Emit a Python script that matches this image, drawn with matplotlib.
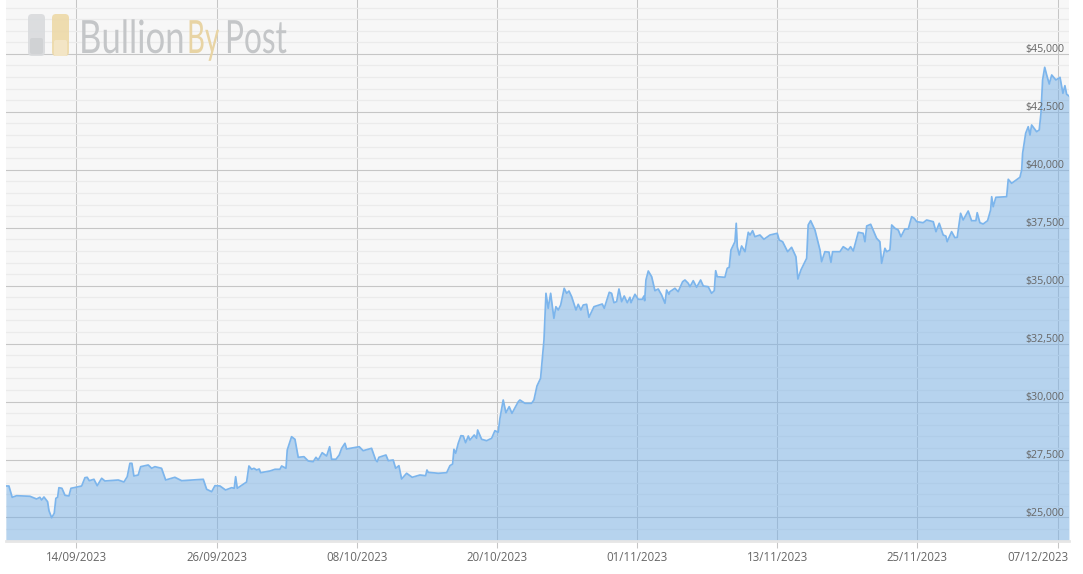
import matplotlib
matplotlib.use("Agg")
import matplotlib.pyplot as plt
from matplotlib.patches import FancyBboxPatch
from matplotlib.patheffects import AbstractPathEffect
from matplotlib.ticker import MultipleLocator
from matplotlib.transforms import Affine2D, ScaledTranslation

# days after 14/09/2023
days = [-6.04,-5.78,-5.50,-5.12,-3.98,-3.41,-3.13,-2.98,-2.78,-2.47,-2.35,-2.12,-1.90,-1.76,-1.61,-1.50,-1.24,-0.98,-0.64,-0.47,-0.21,
0.45,0.73,0.92,1.10,1.50,1.78,2.16,2.44,3.58,4.07,4.35,4.58,4.75,4.92,5.29,5.50,6.15,6.44,6.72,7.29,7.64,8.43,9.01,10.86,11.15,11.58,11.86,
12.29,12.77,13.29,13.51,13.63,13.77,14.57,14.77,15.00,15.20,15.43,15.65,15.77,16.57,17.00,17.42,17.57,17.94,18.05,18.42,18.71,18.99,19.48,19.85,
20.27,20.51,20.70,21.04,21.42,21.68,21.85,22.22,22.50,22.71,22.99,23.13,24.21,24.55,25.27,25.62,25.75,25.90,26.50,26.70,27.12,27.33,27.61,27.84,
28.27,28.75,29.41,29.90,30.01,30.12,30.98,31.70,31.98,32.21,32.32,32.47,32.69,32.92,33.12,33.32,33.55,33.69,34.06,34.26,34.35,34.69,35.12,35.55,35.83,
36.11,36.26,36.54,36.77,37.05,37.29,37.83,37.97,38.40,38.97,39.17,39.43,39.74,40.03,40.20,40.39,40.60,40.88,41.05,41.25,41.46,41.76,41.97,42.17,42.40,
42.77,42.96,43.19,43.39,43.68,43.88,44.31,45.02,45.19,45.62,45.82,46.02,46.25,46.45,46.68,46.90,47.16,47.39,47.48,47.82,48.10,48.44,48.59,48.65,48.76,
48.96,49.25,49.53,49.81,50.10,50.39,50.53,50.73,50.81,51.24,51.52,51.90,52.10,52.38,52.53,52.81,53.10,53.44,53.67,54.09,54.38,54.61,54.73,54.86,55.52,
55.72,55.89,56.04,56.38,56.49,56.58,56.75,56.95,57.24,57.52,57.67,57.89,58.09,58.52,58.86,59.38,60.00,60.17,60.46,60.89,61.23,61.60,61.77,62.03,62.52,
62.65,62.86,63.23,63.66,63.80,64.08,64.43,64.60,64.74,65.37,65.65,66.08,66.28,66.51,66.94,67.36,67.51,67.66,68.00,68.51,68.79,68.94,69.22,69.37,69.65,
69.80,70.08,70.36,70.59,70.93,71.22,71.51,71.73,71.94,72.50,72.79,73.36,73.59,73.87,74.21,74.44,74.55,74.93,75.21,75.41,75.70,75.92,76.35,76.64,77.01,
77.12,77.35,77.63,78.01,78.27,78.36,78.49,78.72,79.64,79.78,80.07,80.78,80.93,81.01,81.27,81.49,81.64,81.78,82.21,82.43,82.58,82.72,82.90,83.07,83.29,
83.50,83.86,84.21,84.46,84.63,84.78,84.98]

prices = [26359,26359,25871,25940,25915,25798,25871,25755,25884,25682,25293,24990,25181,25828,25871,26286,26260,25958,25928,26260,26286,
26359,26717,26734,26588,26648,26372,26691,26575,26618,26531,26760,27338,27338,26790,26833,27192,27265,27122,27192,27122,26618,26734,26588,26648,26217,26113,26372,
26359,26186,26286,26260,26760,26260,26531,27222,27079,27122,27049,27092,26933,27006,27079,27079,27222,27122,27912,28486,28374,27597,27623,27437,
27407,27597,27481,27795,27653,28054,27511,27511,27696,27985,28201,27955,28054,27882,27985,27481,27407,27597,27696,27450,27481,27122,27235,26661,
26907,26734,26833,26803,27049,26950,26907,26933,27235,27308,27942,27770,28201,28529,28516,28227,28516,28343,28559,28417,28775,28374,28313,28417,28745,
28676,29279,30069,29521,29780,29495,29996,30069,29927,29927,30069,30673,31005,32657,34672,34025,34672,33593,34094,33952,34167,34888,34672,34771,34525,
33952,34197,33952,34167,34197,33637,34094,34210,34025,34715,34672,34267,34310,34858,34310,34556,34267,34500,34267,34629,34413,34413,34556,34353,35246,
35634,35388,34784,34858,34599,34241,34814,34629,34741,34888,34741,35172,35246,35103,34957,35216,34931,35246,34987,34957,34672,34784,35647,35388,35362,
35751,35794,36540,36898,37692,36682,36324,36713,36467,37304,37187,37373,37114,37187,37002,37187,37260,36971,36898,36467,36656,36251,35289,35677,36182,
37619,37804,37403,36540,36035,36467,36450,36009,36467,36467,36682,36540,36682,36497,37304,37260,36898,37575,37649,37045,36898,35966,36613,36467,36540,
37619,37476,37403,37114,37446,37446,37977,37907,37761,37718,37834,37761,37330,37692,37187,37140,36898,37330,37071,37088,38123,37834,38222,37804,37804,
38149,37718,37662,37804,38266,38839,38408,38813,38839,39590,39417,39676,39991,40712,41574,41859,41501,41933,41643,41717,42437,43874,44422,44090,43701,
44090,43874,43990,43300,43628,43257,43184]

x_ticks = [0, 12, 24, 36, 48, 60, 72, 84]
x_labels = ["14/09/2023", "26/09/2023", "08/10/2023", "20/10/2023",
            "01/11/2023", "13/11/2023", "25/11/2023", "07/12/2023"]
y_ticks = [25000, 27500, 30000, 32500, 35000, 37500, 40000, 42500, 45000]
y_labels = ["$25,000", "$27,500", "$30,000", "$32,500", "$35,000",
            "$37,500", "$40,000", "$42,500", "$45,000"]
logo_words = ["Bullion", "By", "Post"]


class Stretch(AbstractPathEffect):
    """Scale the glyphs of a text about a display position (word start, baseline)."""

    def __init__(self, x0, y0, sx, sy):
        super().__init__()
        self.x0, self.y0, self.sx, self.sy = x0, y0, sx, sy

    def draw_path(self, renderer, gc, tpath, affine, rgbFace=None):
        t = affine + (Affine2D().translate(-self.x0, -self.y0)
                      .scale(self.sx, self.sy).translate(self.x0, self.y0))
        renderer.draw_path(gc, tpath, t, rgbFace)


W, H = 1083, 574
fig = plt.figure(figsize=(W / 100, H / 100), dpi=100, facecolor="white")
ax = fig.add_axes([6 / W, 1 - 541 / H, 1063 / W, 541 / H], facecolor="#f7f7f7")
ax.set_xlim(-6.03, 84.98)
ax.set_ylim(23986, 47325)

ax.set_axisbelow(True)
ax.set_xticks(x_ticks, x_labels, fontsize=8.3, color="#666666", family="Open Sans")
ax.yaxis.set_major_locator(MultipleLocator(2500))
ax.yaxis.set_minor_locator(MultipleLocator(500))
ax.grid(True, axis="x", color="#c6c6c6", lw=0.75)
ax.grid(True, axis="y", which="major", color="#c6c6c6", lw=0.8)
ax.grid(True, axis="y", which="minor", color="#ebebeb", lw=0.9)
ax.tick_params(axis="x", length=5, width=0.75, color="#c6c6c6", pad=2.5)
ax.tick_params(axis="y", which="both", length=0, labelleft=False)
for s in ("top", "left", "right"):
    ax.spines[s].set_visible(False)
ax.spines["bottom"].set_color("#e6e6e6")
ax.spines["bottom"].set_linewidth(2)

# the last date label is pulled inward so that it stays on the canvas
last = ax.get_xticklabels()[-1]
last.set_transform(last.get_transform() + ScaledTranslation(-20 / 100, 0, fig.dpi_scale_trans))

ax.fill_between(days, prices, 23986, color="#76b0e6", alpha=0.5, lw=0, zorder=1)
ax.plot(days, prices, color="#7cb5ec", lw=1.25, zorder=2, solid_joinstyle="round")

for v, t in zip(y_ticks, y_labels):
    ax.annotate(t, xy=(1, v), xycoords=("axes fraction", "data"), xytext=(-3.4, -0.9),
                textcoords="offset points", ha="right", va="bottom",
                fontsize=7.7, color="#666666", family="Open Sans", zorder=5)

# watermark logo, in pixel coordinates
lg = fig.add_axes([0, 0, 1, 1], facecolor="none")
lg.set_xlim(0, W)
lg.set_ylim(H, 0)
lg.axis("off")
for x0, c, c2, y2 in ((28, "#d9dbdd", "#cfd1d3", 39), (52, "#edd9a8", "#f4e7c8", 41)):
    lg.add_patch(FancyBboxPatch((x0 + 3, 17), 11, 36, boxstyle="round,pad=3,rounding_size=4",
                                fc=c, ec="none", alpha=0.9))
    lg.add_patch(FancyBboxPatch((x0 + 3, y2), 11, 14, boxstyle="round,pad=1,rounding_size=2",
                                fc=c2, ec="none", alpha=0.9))
for x0, word, c, sx in zip((79, 187, 225), logo_words, ("#c4c6c8", "#e8d4a4", "#c4c6c8"),
                           (1.0, 0.8, 0.91)):
    lg.text(x0, 53, word, fontsize=25, color=c, family="Lato",
            ha="left", va="baseline", path_effects=[Stretch(x0, H - 53, sx, 1.32)])

fig.savefig("out.png", dpi=100, facecolor="white")
